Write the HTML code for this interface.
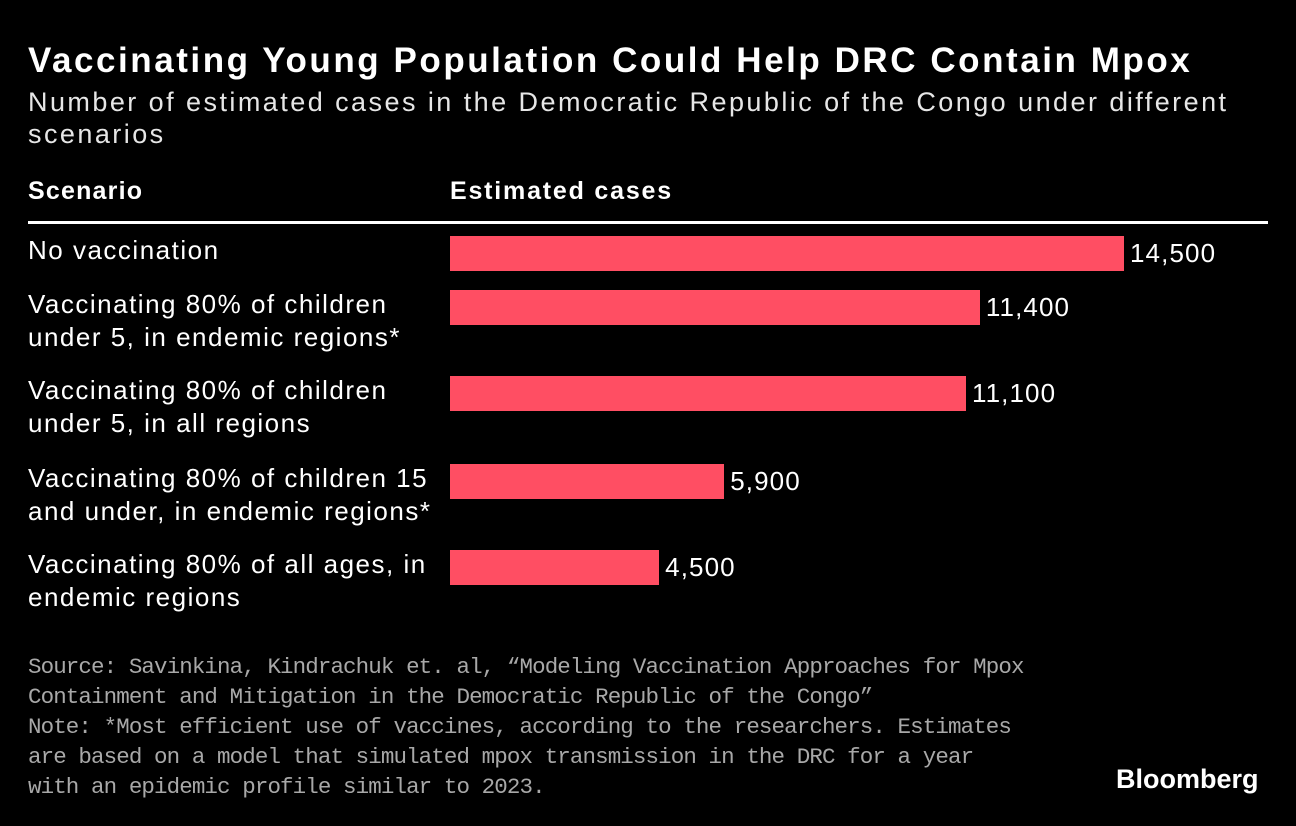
<!DOCTYPE html>
<html><head><meta charset="utf-8"><style>
body{margin:0;background:#000;width:1296px;height:826px;overflow:hidden;font-family:"Liberation Sans",sans-serif;color:#fff;position:relative}
.a{position:absolute;white-space:nowrap}
.lab{font-size:26px;line-height:33px;color:#fff;letter-spacing:1.5px}
.val{letter-spacing:1.1px}
.src{font-family:"Liberation Mono",monospace;font-size:22.5px;line-height:30px;color:#a8a8a8;letter-spacing:-0.9px}
</style></head><body>
<div class="a" style="left:28px;top:41px;font-size:35px;font-weight:bold;letter-spacing:2.55px">Vaccinating Young Population Could Help DRC Contain Mpox</div>
<div class="a" style="left:28px;top:86px;font-size:27px;line-height:32px;color:#e6e6e6;letter-spacing:2.45px">Number of estimated cases in the Democratic Republic of the Congo under different<br>scenarios</div>
<div class="a" style="left:28px;top:177px;font-size:25px;font-weight:bold;letter-spacing:1.2px">Scenario</div>
<div class="a" style="left:450px;top:177px;font-size:25px;font-weight:bold;letter-spacing:1.8px">Estimated cases</div>
<div class="a" style="left:28px;top:221px;width:1240px;height:3px;background:#fff"></div>
<div id="chart"></div>
<div class="a src" style="left:28px;top:652px">Source: Savinkina, Kindrachuk et. al, “Modeling Vaccination Approaches for Mpox<br>Containment and Mitigation in the Democratic Republic of the Congo”<br>Note: *Most efficient use of vaccines, according to the researchers. Estimates<br>are based on a model that simulated mpox transmission in the DRC for a year<br>with an epidemic profile similar to 2023.</div>
<div class="a" style="left:1116px;top:764px;font-size:27px;font-weight:bold;letter-spacing:0px">Bloomberg</div>
<script>
const categories=["No vaccination","Vaccinating 80% of children<br>under 5, in endemic regions*","Vaccinating 80% of children<br>under 5, in all regions","Vaccinating 80% of children 15<br>and under, in endemic regions*","Vaccinating 80% of all ages, in<br>endemic regions"];
const values=[14500,11400,11100,5900,4500];
const valueLabels=["14,500","11,400","11,100","5,900","4,500"];
const barTops=[236,290,376,464,550];
const x0=450,scale=674/14500;
function xScale(v){return v*scale;}
const c=document.getElementById('chart');
values.forEach((v,i)=>{
 const l=document.createElement('div');l.className='a lab';l.style.left='28px';l.style.top=(barTops[i]-2)+'px';l.innerHTML=categories[i];
 
 
 c.appendChild(l);
 const b=document.createElement('div');b.className='a';b.style.cssText=`left:${x0}px;top:${barTops[i]}px;width:${xScale(v)}px;height:35px;background:#ff4e63`;
 
 
 c.appendChild(b);
 const t=document.createElement('div');t.className='a lab val';t.style.left=(x0+xScale(v)+6)+'px';t.style.top=(barTops[i]+1)+'px';t.textContent=valueLabels[i];
 
 
 c.appendChild(t);
});
</script>
</body></html>
